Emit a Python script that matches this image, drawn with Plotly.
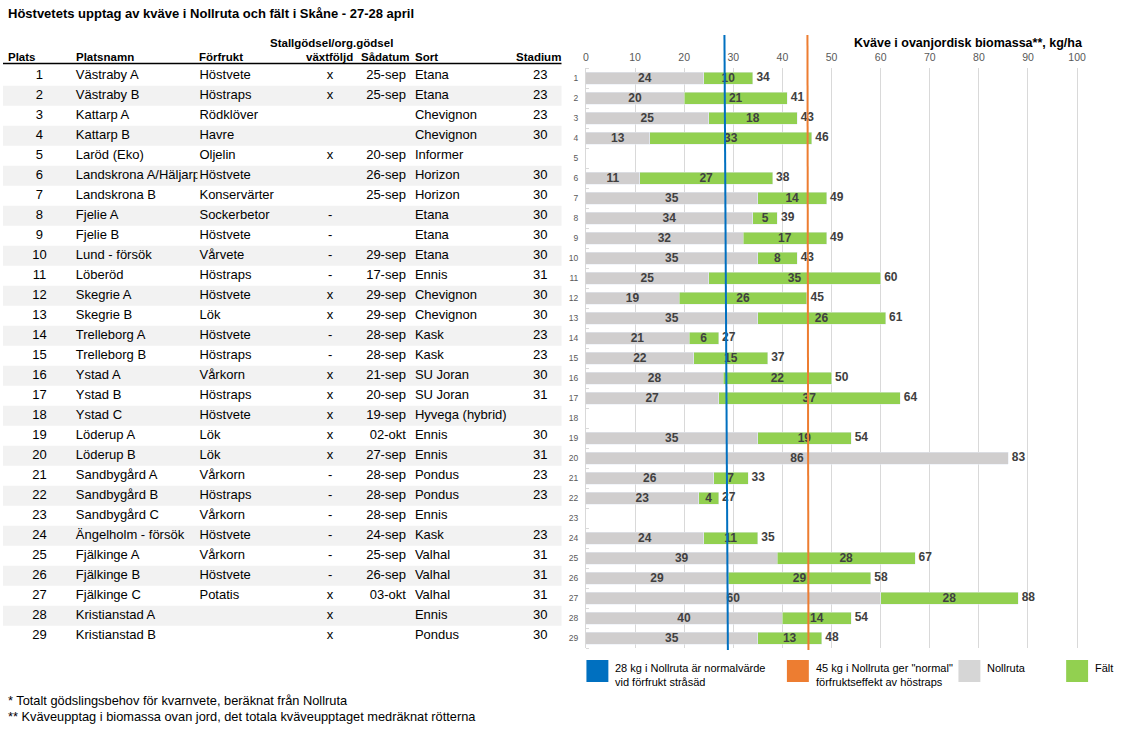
import plotly.graph_objects as go

W, H = 1121, 741
FONT = "Arial, 'Liberation Sans', sans-serif"

# ---- data -------------------------------------------------------------
plats = list(range(1, 30))
platsnamn = ["Västraby A", "Västraby B", "Kattarp A", "Kattarp B", "Laröd (Eko)",
             "Landskrona A/Häljarp", "Landskrona B", "Fjelie A", "Fjelie B", "Lund - försök",
             "Löberöd", "Skegrie A", "Skegrie B", "Trelleborg A", "Trelleborg B",
             "Ystad A", "Ystad B", "Ystad C", "Löderup A", "Löderup B",
             "Sandbygård A", "Sandbygård B", "Sandbygård C", "Ängelholm - försök", "Fjälkinge A",
             "Fjälkinge B", "Fjälkinge C", "Kristianstad A", "Kristianstad B"]
forfrukt = ["Höstvete", "Höstraps", "Rödklöver", "Havre", "Oljelin",
            "Höstvete", "Konservärter", "Sockerbetor", "Höstvete", "Vårvete",
            "Höstraps", "Höstvete", "Lök", "Höstvete", "Höstraps",
            "Vårkorn", "Höstraps", "Höstvete", "Lök", "Lök",
            "Vårkorn", "Höstraps", "Vårkorn", "Höstvete", "Vårkorn",
            "Höstvete", "Potatis", "", ""]
vaxtfoljd = ["x", "x", "", "", "x", "", "", "-", "-", "-",
             "-", "x", "x", "-", "-", "x", "x", "x", "x", "x",
             "-", "-", "-", "-", "-", "-", "x", "x", "x"]
sadatum = ["25-sep", "25-sep", "", "", "20-sep", "26-sep", "25-sep", "", "", "29-sep",
           "17-sep", "29-sep", "29-sep", "28-sep", "28-sep", "21-sep", "20-sep", "19-sep", "02-okt", "27-sep",
           "28-sep", "28-sep", "28-sep", "24-sep", "25-sep", "26-sep", "03-okt", "", ""]
sorter = ["Etana", "Etana", "Chevignon", "Chevignon", "Informer",
          "Horizon", "Horizon", "Etana", "Etana", "Etana",
          "Ennis", "Chevignon", "Chevignon", "Kask", "Kask",
          "SU Joran", "SU Joran", "Hyvega (hybrid)", "Ennis", "Ennis",
          "Pondus", "Pondus", "Ennis", "Kask", "Valhal",
          "Valhal", "Valhal", "Ennis", "Pondus"]
stadium = ["23", "23", "23", "30", "", "30", "30", "30", "30", "30",
           "31", "30", "30", "23", "23", "30", "31", "", "30", "31",
           "23", "23", "", "23", "31", "31", "31", "30", "30"]

nollruta = [24, 20, 25, 13, None, 11, 35, 34, 32, 35, 25, 19, 35, 21, 22,
            28, 27, None, 35, 86, 26, 23, None, 24, 39, 29, 60, 40, 35]
falt = [10, 21, 18, 33, None, 27, 14, 5, 17, 8, 35, 26, 26, 6, 15,
        22, 37, None, 19, None, 7, 4, None, 11, 28, 29, 28, 14, 13]
totalt = [34, 41, 43, 46, None, 38, 49, 39, 49, 43, 60, 45, 61, 27, 37,
          50, 64, None, 54, 83, 33, 27, None, 35, 67, 58, 88, 54, 48]

# reference lines as drawn (top, bottom)
linje_strasad = [28.2, 28.9]
linje_hostraps = [45.1, 45.3]
x_ticks = list(range(0, 120, 10))

GRAY = "#D0CECE"
GREEN = "#92D050"
BLUE = "#0070C0"
ORANGE = "#ED7D31"


def px(x):
    return x / W


def py(y):
    return 1 - y / H


fig = go.Figure()

# ---- table -------------------------------------------------------------
def col(xpos, values, pos, axis="x2"):
    return go.Scatter(x=[xpos] * len(values), y=plats, text=values, mode="text",
                      textposition=pos, xaxis=axis, yaxis="y2", hoverinfo="skip",
                      textfont=dict(family=FONT, size=13, color="#000000"))


fig.add_trace(col(36.5, [str(p) for p in plats], "middle center"))
fig.add_trace(col(73, platsnamn, "middle right", axis="x3"))
fig.add_trace(col(197, forfrukt, "middle right"))
fig.add_trace(col(328, vaxtfoljd, "middle center"))
fig.add_trace(col(404, sadatum, "middle left"))
fig.add_trace(col(413, sorter, "middle right"))
fig.add_trace(col(546, stadium, "middle left"))

for p in plats:
    if p % 2 == 0:
        fig.add_shape(type="rect", xref="x2", yref="y2", x0=0, x1=560, y0=p - 0.5, y1=p + 0.5,
                      fillcolor="#F2F2F2", line_width=0, layer="below")

# ---- bars --------------------------------------------------------------
bar_font = dict(family=FONT, size=12, color="#404040", weight="bold")
fig.add_trace(go.Bar(x=nollruta, y=plats, orientation="h", width=0.6, marker_color=GRAY,
                     text=nollruta, textposition="inside", insidetextanchor="middle",
                     textangle=0, constraintext="none", textfont=bar_font, hoverinfo="skip"))
fig.add_trace(go.Bar(x=falt, y=plats, orientation="h", width=0.6, marker_color=GREEN,
                     text=falt, textposition="inside", insidetextanchor="middle",
                     textangle=0, constraintext="none", textfont=bar_font, hoverinfo="skip"))
ends = [None if n is None else n + (f or 0) for n, f in zip(nollruta, falt)]
fig.add_trace(go.Scatter(x=ends, y=plats, text=totalt, mode="markers+text",
                         marker=dict(size=4, color="rgba(0,0,0,0)"),
                         textposition="middle right", textfont=bar_font,
                         cliponaxis=False, hoverinfo="skip"))

for xs, c in [(linje_strasad, BLUE), (linje_hostraps, ORANGE)]:
    fig.add_shape(type="line", xref="x", yref="paper", x0=xs[0], x1=xs[1],
                  y0=py(35), y1=py(650), line=dict(color=c, width=2), layer="above")

# ---- texts -------------------------------------------------------------
def txt(x, y, s, size=12, bold=False, anchor="left", color="#000000", valign="middle"):
    shift = {"left": -2, "right": 2, "center": 0}[anchor]
    fig.add_annotation(x=px(x), y=py(y), xref="paper", yref="paper", text=s, showarrow=False,
                       xanchor=anchor, yanchor=valign, align="left", xshift=shift,
                       font=dict(family=FONT, size=size, color=color,
                                 weight="bold" if bold else "normal"))


txt(5, 14, "Höstvetets upptag av kväve i Nollruta och fält i Skåne - 27-28 april", 13, True)
txt(329, 43, "Stallgödsel/org.gödsel", 11.5, True, "center")
for x, s, a in [(5, "Plats", "left"), (73, "Platsnamn", "left"), (197, "Förfrukt", "left"),
                (351, "växtföljd", "right"), (408, "Sådatum", "right"), (413, "Sort", "left"),
                (559, "Stadium", "right")]:
    txt(x, 57, s, 11.5, True, a)
fig.add_shape(type="line", xref="paper", yref="paper", x0=0, x1=px(560), y0=py(63.5), y1=py(63.5),
              line=dict(color="#000000", width=1.5))

txt(968, 43, "Kväve i ovanjordisk biomassa**, kg/ha", 12.5, True, "center")

txt(5, 700, "* Totalt gödslingsbehov för kvarnvete, beräknat från Nollruta", 12.8)
txt(5, 716, "** Kväveupptag i biomassa ovan jord, det totala kväveupptaget medräknat rötterna", 12.8)

# legend
legend_items = [(585, BLUE, "28 kg i Nollruta är normalvärde<br>vid förfrukt stråsäd"),
                (786, ORANGE, "45 kg i Nollruta ger \"normal\"<br>förfruktseffekt av höstraps"),
                (958, "#D6D6D6", "Nollruta"),
                (1066, GREEN, "Fält")]
for x, c, s in legend_items:
    fig.add_shape(type="rect", xref="paper", yref="paper", x0=px(x), x1=px(x + 22),
                  y0=py(660), y1=py(682), fillcolor=c, line_width=0)
    txt(x + 29, 660, s, 11, valign="top")

# ---- axes --------------------------------------------------------------
fig.update_layout(
    width=W, height=H, margin=dict(l=0, r=0, t=0, b=0),
    paper_bgcolor="white", plot_bgcolor="rgba(0,0,0,0)",
    barmode="stack", showlegend=False,
    xaxis=dict(domain=[px(584.5), 1], range=[0, (W - 584.5) / 4.925], side="top",
               tickvals=x_ticks, showgrid=True, gridcolor="#D9D9D9", gridwidth=1,
               zeroline=False, showline=False, ticks="", ticklabelstandoff=4,
               tickfont=dict(family=FONT, size=10.5, color="#595959"), anchor="y"),
    yaxis=dict(domain=[py(648), py(68)], range=[29.5, 0.5], tickvals=plats,
               showgrid=False, zeroline=False, showline=True, linecolor="#D9D9D9",
               ticks="", ticklabelstandoff=5,
               tickfont=dict(family=FONT, size=8.5, color="#595959"),
               minor=dict(tickvals=[p + 0.5 for p in [0] + plats], ticks="inside",
                          ticklen=3, tickcolor="#D9D9D9"),
               anchor="x"),
    xaxis2=dict(domain=[0, 1], range=[0, W], visible=False, anchor="y2"),
    xaxis3=dict(domain=[0, px(195)], range=[0, 195], visible=False, anchor="y2"),
    yaxis2=dict(domain=[0, 1], range=[1 + (H - 75.7) / 20, 1 - 75.7 / 20], visible=False,
                anchor="x2"),
)

fig.write_html("out.html", config={"displayModeBar": False},
               post_script="document.body.style.margin='0';")
